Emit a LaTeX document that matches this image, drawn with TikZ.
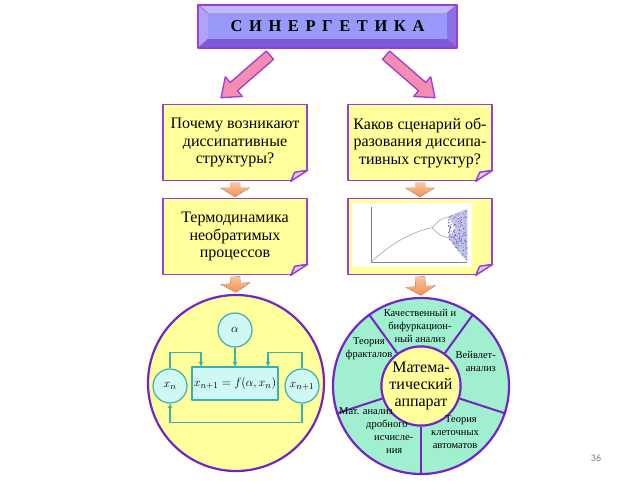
\documentclass[tikz,border=0pt]{standalone}
\usepackage{fontspec}
\setmainfont{Liberation Serif}
\newfontfamily\titlefont[WordSpace=1.6]{Liberation Serif}
\newfontfamily\pagefont{Carlito}
\usetikzlibrary{calc}

\definecolor{boxviolet}{HTML}{9A3FD0}
\definecolor{ringviolet}{HTML}{7424C0}
\definecolor{paleyellow}{HTML}{FFFF9C}
\definecolor{mint}{HTML}{A0EFCF}
\definecolor{arrowpink}{HTML}{F58CB4}
\definecolor{orangetop}{HTML}{FAC49C}
\definecolor{orangebot}{HTML}{F39052}
\definecolor{lineteal}{HTML}{3CAFAE}
\definecolor{palecyan}{HTML}{CFF8F4}
\definecolor{facelav}{HTML}{9999FA}
\definecolor{bevtop}{HTML}{C4B8FF}
\definecolor{bevleft}{HTML}{B0A2F6}
\definecolor{bevright}{HTML}{8C70E6}
\definecolor{bevbottom}{HTML}{7A5CD8}
\definecolor{foldlilac}{HTML}{E8C8F8}
\definecolor{chaosblue}{HTML}{C4C4EC}
\definecolor{chaosdot}{HTML}{4A4AA8}

% #1 style, #2 from, #3 to, #4 shaft half width, #5 head half width, #6 head length
\newcommand\fatarrow[6]{%
  \coordinate (fa-h) at ($(#3)!#6!(#2)$);
  \filldraw[#1] ($(#2)!#4!90:(#3)$) -- ($(fa-h)!#4!90:(#3)$) -- ($(fa-h)!#5!90:(#3)$) -- (#3)
    -- ($(fa-h)!#5!-90:(#3)$) -- ($(fa-h)!#4!-90:(#3)$) -- ($(#2)!#4!-90:(#3)$) -- cycle;}
\newcommand\dogear[1]{%
  \fill[white] ($(#1.south east)+(2,-13)$) -- ($(#1.south east)+(2,2.5)$) -- ($(#1.south east)+(-19.5,2.5)$) -- cycle;
  \filldraw[fill=foldlilac, draw=boxviolet, line width=1.5pt] ($(#1.south east)+(0,-11)$) -- ($(#1.south east)+(-17,0)$) -- ($(#1.south east)+(-13,-9)$) -- cycle;}

\begin{document}
\begin{tikzpicture}[x=1pt, y=-1pt, line join=round, >=stealth,
	qbox/.style={draw=boxviolet, line width=1.5pt, fill=paleyellow, minimum width=144pt, minimum height=76pt, inner sep=0pt, align=center, font=\fontsize{16}{17.5}\selectfont},
	big/.style={circle, draw=ringviolet, line width=2.2pt, minimum size=176pt, inner sep=0pt},
	var/.style={circle, draw=lineteal, line width=1.2pt, fill=palecyan, minimum size=34pt, inner sep=0pt, font=\fontsize{12.5}{12.5}\selectfont},
	link/.style={draw=lineteal, line width=1.2pt},
	seg/.style={align=center, font=\fontsize{10.5}{13}\selectfont, inner sep=0pt},
	pinkarrow/.style={fill=arrowpink, draw=boxviolet, line width=1.3pt},
	orangearrow/.style={top color=orangetop, bottom color=orangebot, draw=none}]

	\useasboundingbox (0,0) rectangle (640,480);
	\pgfmathsetseed{3}

	\node[fill=facelav, minimum width=239pt, minimum height=26pt, inner sep=0pt, font=\titlefont\bfseries\fontsize{16.5}{16.5}\selectfont] (title) at (327.5,26) {С И Н Е Р Г Е Т И К А};
	\coordinate (o1) at ($(title.north west)+(-10,-8)$);
	\coordinate (o2) at ($(title.north east)+(10,-8)$);
	\coordinate (o3) at ($(title.south east)+(10,9)$);
	\coordinate (o4) at ($(title.south west)+(-10,9)$);
	\fill[bevtop] (o1) -- (o2) -- (title.north east) -- (title.north west) -- cycle;
	\fill[bevleft] (o1) -- (o4) -- (title.south west) -- (title.north west) -- cycle;
	\fill[bevright] (o2) -- (o3) -- (title.south east) -- (title.north east) -- cycle;
	\fill[bevbottom] (o4) -- (o3) -- (title.south east) -- (title.south west) -- cycle;
	\draw[boxviolet, line width=0.4pt] (o1) -- (title.north west) (o2) -- (title.north east) (o3) -- (title.south east) (o4) -- (title.south west);
	\draw[boxviolet, line width=1.5pt] (o1) rectangle (o3);

	\node[qbox] (q1) at (235,142.5) {Почему возникают\\диссипативные\\структуры?};
	\node[qbox] (q2) at (420,142.5) {Каков сценарий об-\\разования диссипа-\\тивных структур?};
	\node[qbox] (t1) at (235,236.5) {Термодинамика\\необратимых\\процессов};
	\node[qbox] (t2) at (420,236.5) {};
	\dogear{q1}
	\dogear{q2}
	\dogear{t1}
	\dogear{t2}

	\coordinate (la-from) at ($(title.south)+(-57.5,16)$);
	\coordinate (la-to) at ($(q1.north)+(-14,-6)$);
	\coordinate (ra-from) at ($(title.south)+(58.5,16)$);
	\coordinate (ra-to) at ($(q2.north)+(15,-6)$);
	\fatarrow{pinkarrow}{la-from}{la-to}{5.5pt}{13pt}{17pt}
	\fatarrow{pinkarrow}{ra-from}{ra-to}{5.5pt}{13pt}{17pt}

	% bifurcation plot
	\fill[white] ($(t2.north west)+(5,5)$) rectangle ($(t2.north west)+(125,69)$);
	\coordinate (po) at ($(t2.north west)+(24,64)$);
	\begin{scope}[shift={(po)}]
		\fill[chaosblue] (77,-45) -- (96,-53) -- (96,0) -- (77,-23) -- (84,-34) -- cycle;
		\foreach \i in {1,...,170}{
			\pgfmathsetmacro\t{rnd}
			\pgfmathsetmacro\s{rnd}
			\fill[chaosdot] ({77+19*\t},{-45-8*\t+(22+31*\t)*\s}) circle (0.45pt);
		}
		\draw[gray, line width=0.5pt] (0,-55) -- (0,0) -- (96,0);
		\draw[gray!80, line width=0.5pt] (0,0) .. controls (20,-18) and (40,-30) .. (61,-34);
		\draw[gray!80, line width=0.5pt] (61,-34) .. controls (66,-40) and (70,-44) .. (78,-45);
		\draw[gray!80, line width=0.5pt] (61,-34) .. controls (66,-28) and (70,-25) .. (78,-24);
	\end{scope}

	\node[big, fill=paleyellow] (lc) at (236,383) {};
	\node[big, fill=mint] (rc) at (421,386) {};

	\coordinate (ob1-from) at ($(q1.south)+(0,1.5)$);
	\coordinate (ob1-to) at ($(t1.north)+(0,-1)$);
	\coordinate (ob2-from) at ($(q2.south)+(0,1.5)$);
	\coordinate (ob2-to) at ($(t2.north)+(0,-1)$);
	\coordinate (ob3-from) at ($(t1.south)+(0,1.5)$);
	\coordinate (ob3-to) at ($(lc.north)+(0,-1.5)$);
	\coordinate (ob4-from) at ($(t2.south)+(0,1.5)$);
	\coordinate (ob4-to) at ($(rc.north)+(0,-1.5)$);
	\foreach \k in {1,2,3,4}{
		\fatarrow{orangearrow}{ob\k-from}{ob\k-to}{5pt}{15pt}{9pt}
	}

	\node[var] (al) at (235,330) {$\alpha$};
	\node[var, rectangle, minimum width=86pt, minimum height=33pt] (fx) at (235,383.5) {$x_{n+1}=f(\alpha,x_n)$};
	\node[var] (xn) at (170,386) {$x_n$};
	\node[var] (xn1) at (302,386) {$x_{n+1}$};
	\draw[link, ->] (al) -- (fx);
	\draw[link, ->] (xn.north) -- ++(0,-16) -| ([xshift=-34pt]fx.north);
	\draw[link, ->] (xn1.north) -- ++(0,-16) -| ([xshift=33pt]fx.north);
	\draw[link, ->] (xn1.south) -- ++(0,19) -| (xn.south);

	\node[circle, draw=ringviolet, line width=2.2pt, fill=paleyellow, minimum size=72pt, inner sep=0pt, align=center, font=\fontsize{16}{17}\selectfont] (ic) at (421,386) {Матема-\\тический\\аппарат};
	\foreach \a in {54,126,198,270,342}{
		\draw[ringviolet, line width=2pt] (ic.\a) -- (rc.\a);
	}
	\node[seg] (s1) at (420,325.5) {Качественный и\\бифуркацион-\\ный анализ};
	\node[seg] (s2) at (369,348.5) {Теория\\фракталов};
	\node[seg, align=right, anchor=east] (s3) at (496,361.5) {Вейвлет-\\анализ};
	\node[seg] (s4) at (455,432) {\hspace*{12pt}Теория\\клеточных\\автоматов};
	\node[seg, align=left, anchor=north west] (s5) at (339,407) {Мат. анализ\\\hspace*{27pt}дробного\\\hspace*{35pt}исчисле-\\\hspace*{47pt}ния};

	\node[font=\pagefont\fontsize{10}{10}\selectfont, text=gray] (pg) at (596,458) {36};
\end{tikzpicture}
\end{document}
